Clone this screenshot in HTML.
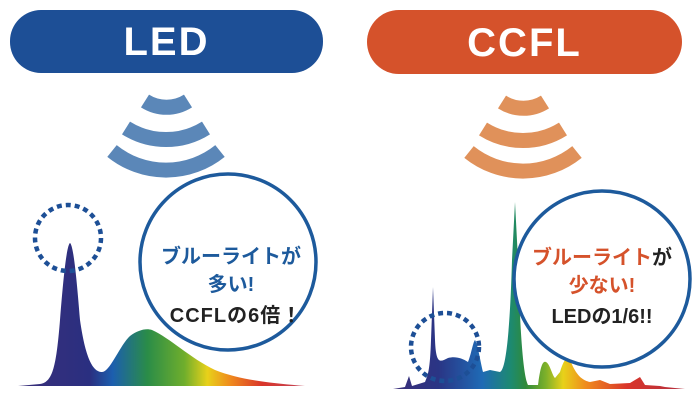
<!DOCTYPE html>
<html><head><meta charset="utf-8"><style>
html,body{margin:0;padding:0;background:#fff;}
body{width:700px;height:403px;overflow:hidden;}
svg{display:block}
text{font-family:"Liberation Sans","Noto Sans CJK JP",sans-serif;font-weight:bold;}
</style></head><body>
<svg width="700" height="403" viewBox="0 0 700 403">
<defs>
<linearGradient id="gl" x1="18" y1="0" x2="305" y2="0" gradientUnits="userSpaceOnUse">
<stop offset="0" stop-color="#3a2f7a"/>
<stop offset="0.25" stop-color="#2a2f80"/>
<stop offset="0.33" stop-color="#1c5fae"/>
<stop offset="0.45" stop-color="#2a8c48"/>
<stop offset="0.58" stop-color="#6fae2c"/>
<stop offset="0.66" stop-color="#e8d11a"/>
<stop offset="0.74" stop-color="#ef8a1d"/>
<stop offset="0.85" stop-color="#d9352a"/>
<stop offset="1" stop-color="#c2475a"/>
</linearGradient>
<linearGradient id="gr" x1="395" y1="0" x2="685" y2="0" gradientUnits="userSpaceOnUse">
<stop offset="0" stop-color="#3a2f7a"/>
<stop offset="0.15" stop-color="#2a3585"/>
<stop offset="0.3" stop-color="#1f6ab5"/>
<stop offset="0.4" stop-color="#1d8a70"/>
<stop offset="0.45" stop-color="#2f8a3a"/>
<stop offset="0.52" stop-color="#7db02a"/>
<stop offset="0.58" stop-color="#e8d11a"/>
<stop offset="0.66" stop-color="#ef8a1d"/>
<stop offset="0.8" stop-color="#d9352a"/>
<stop offset="1" stop-color="#b33040"/>
</linearGradient>
</defs>

<rect x="10" y="10" width="313" height="63" rx="31" fill="#1d4f96"/>
<text x="166.5" y="55" font-size="40" fill="#fff" text-anchor="middle" letter-spacing="2">LED</text>
<rect x="367" y="10" width="315" height="64" rx="32" fill="#d5522b"/>
<text x="524.5" y="56" font-size="40" fill="#fff" text-anchor="middle" letter-spacing="2">CCFL</text>

<g fill="none" stroke="#5b87b8" stroke-width="15">
<path d="M145 101 A40 40 0 0 0 188 101"/>
<path d="M126 128 A75 75 0 0 0 206 128"/>
<path d="M112 151 A86 86 0 0 0 220 151"/>
</g>
<g fill="none" stroke="#e0915a" stroke-width="15" transform="translate(357,1)">
<path d="M145 101 A40 40 0 0 0 188 101"/>
<path d="M126 128 A75 75 0 0 0 206 128"/>
<path d="M112 151 A86 86 0 0 0 220 151"/>
</g>

<path fill="url(#gl)" d="M18 386 L40 384 C52 382 56 370 60 320 C64 270 67 245 70 243 C73 245 76 270 80 320 C86 362 94 372 102 372 C110 372 120 345 130 336 C138 330 146 328 152 330 C170 338 190 358 215 370 C240 380 270 383 305 386 Z"/>
<circle cx="68" cy="238" r="33" fill="none" stroke="#1d4f96" stroke-width="4.5" stroke-dasharray="5 4"/>
<circle cx="228" cy="262" r="88" fill="#fff" stroke="#1d5a9c" stroke-width="3.5"/>
<text x="231" y="263" font-size="20" fill="#1d5a9c" text-anchor="middle">ブルーライトが</text>
<text x="231" y="291" font-size="20" fill="#1d5a9c" text-anchor="middle">多い!</text>
<text x="236" y="322" font-size="20" fill="#222" text-anchor="middle" letter-spacing="1">CCFLの6倍！</text>

<path fill="url(#gr)" d="M393 389 L405 387 L409 376 L412 386 L425 382 C428 375 430 370 431 340 L433 287 L435 340 C436 365 440 362 448 358 C455 356 462 358 468 362 C471 355 473 342 475 340 C478 345 480 360 483 372 L490 370 L500 372 C506 370 510 330 512 260 L515 202 L518 260 C520 330 523 375 528 385 L538 385 C540 370 542 360 546 362 C550 364 552 375 555 378 L560 372 C563 362 566 356 570 360 C575 372 580 380 590 382 L600 380 L610 384 L630 383 L640 377 L645 385 L660 386 L665 387 L685 389 Z"/>
<circle cx="445" cy="347" r="34" fill="none" stroke="#1d4f96" stroke-width="4.5" stroke-dasharray="5 4"/>
<circle cx="602" cy="279" r="88" fill="#fff" stroke="#1d5a9c" stroke-width="3.5"/>
<text x="602" y="264" font-size="20" text-anchor="middle"><tspan fill="#d5522b">ブルーライト</tspan><tspan fill="#222">が</tspan></text>
<text x="602" y="292" font-size="20" fill="#d5522b" text-anchor="middle">少ない!</text>
<text x="602" y="323" font-size="20" fill="#222" text-anchor="middle">LEDの1/6!!</text>
</svg>
</body></html>
